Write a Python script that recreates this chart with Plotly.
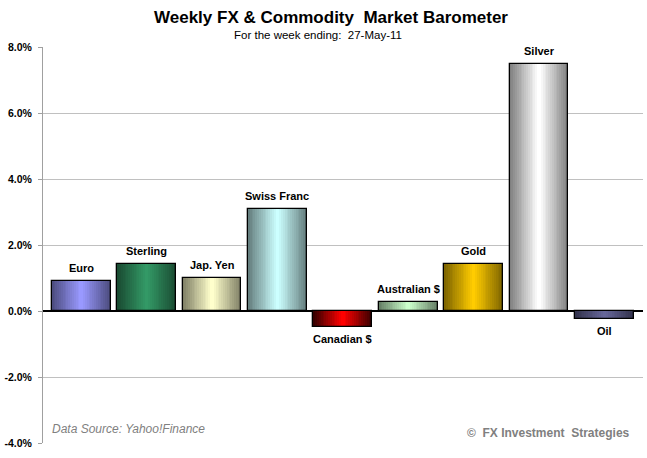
import plotly.graph_objects as go

categories = ["Euro", "Sterling", "Jap. Yen", "Swiss Franc", "Canadian $",
              "Australian $", "Gold", "Silver", "Oil"]
values = [0.91, 1.42, 0.99, 3.08, -0.47, 0.26, 1.41, 7.50, -0.25]
center_colors = ["#9999FF", "#339966", "#FFFFCC", "#CCFFFF", "#FF0000",
                 "#CCFFCC", "#FFCC00", "#FFFFFF", "#666699"]
edge_colors = ["#4D4D80", "#1A4D33", "#808066", "#668080", "#380000",
               "#668066", "#806600", "#808080", "#33334D"]
tick_vals = [-4, -2, 0, 2, 4, 6, 8]
tick_text = ["-4.0%", "-2.0%", "0.0%", "2.0%", "4.0%", "6.0%", "8.0%"]

FONT = "Liberation Sans, Arial, sans-serif"
BAR_W = 0.9
K = 16


def hex2rgb(h):
    h = h.lstrip("#")
    return tuple(int(h[i:i + 2], 16) for i in (0, 2, 4))


def mix(c1, c2, t):
    a, b = hex2rgb(c1), hex2rgb(c2)
    return "rgb(%d,%d,%d)" % tuple(round(a[i] + (b[i] - a[i]) * t) for i in range(3))


xs = list(range(len(categories)))
fig = go.Figure()

for k in range(K):
    t = k / (K - 1)
    w = BAR_W * (1 - k / K)
    fig.add_trace(go.Bar(
        x=xs, y=values, width=w,
        marker=dict(color=[mix(e, c, t) for e, c in zip(edge_colors, center_colors)],
                    line=dict(width=0)),
        hoverinfo="skip", showlegend=False,
    ))

fig.add_trace(go.Bar(
    x=xs, y=values, width=BAR_W,
    marker=dict(color="rgba(0,0,0,0)", line=dict(color="black", width=1.3)),
    showlegend=False, hovertext=categories,
))

annotations = []
for i, (cat, v) in enumerate(zip(categories, values)):
    annotations.append(dict(
        x=i, y=v, xref="x", yref="y", text=cat, showarrow=False,
        yshift=13 if v >= 0 else -12, yanchor="middle",
        font=dict(family=FONT, size=11, color="black", weight="bold"),
    ))

annotations.append(dict(
    x=0.4575, y=1.0303, xref="paper", yref="paper", showarrow=False,
    text="For the week ending:  27-May-11", xanchor="center", yanchor="middle",
    font=dict(family=FONT, size=11.5, color="black"),
))
annotations.append(dict(
    x=0.0117, y=0.0354, xref="paper", yref="paper", showarrow=False,
    text="<i>Data Source: Yahoo!Finance</i>", xanchor="left", yanchor="middle",
    font=dict(family=FONT, size=12, color="#808080"),
))
annotations.append(dict(
    x=0.9817, y=0.0253, xref="paper", yref="paper", showarrow=False,
    text="©  FX Investment  Strategies", xanchor="right", yanchor="middle",
    font=dict(family=FONT, size=12, color="#808080", weight="bold"),
))

fig.update_layout(
    width=647, height=458,
    margin=dict(l=43, r=4, t=47, b=15),
    paper_bgcolor="white", plot_bgcolor="white",
    barmode="overlay", bargap=0,
    title=dict(text="<b>Weekly FX & Commodity  Market Barometer</b>",
               x=331 / 647, y=1 - 17 / 458, xref="container", yref="container",
               xanchor="center", yanchor="middle",
               font=dict(family=FONT, size=17, color="black")),
    annotations=annotations,
    xaxis=dict(range=[-0.584, 8.59], showticklabels=False, showgrid=False,
               zeroline=False, showline=False, fixedrange=True),
    yaxis=dict(range=[-4, 8], tickvals=tick_vals, ticktext=tick_text,
               showgrid=True, gridcolor="#C0C0C0", gridwidth=1,
               showline=True, linecolor="#A0A0A0", linewidth=1,
               ticks="outside", ticklen=4, tickcolor="#A0A0A0",
               zeroline=True, zerolinecolor="black", zerolinewidth=1.5,
               tickfont=dict(family=FONT, size=10.5, color="black", weight="bold"),
               ticklabelstandoff=4, fixedrange=True),
)

fig.write_html("out.html")
